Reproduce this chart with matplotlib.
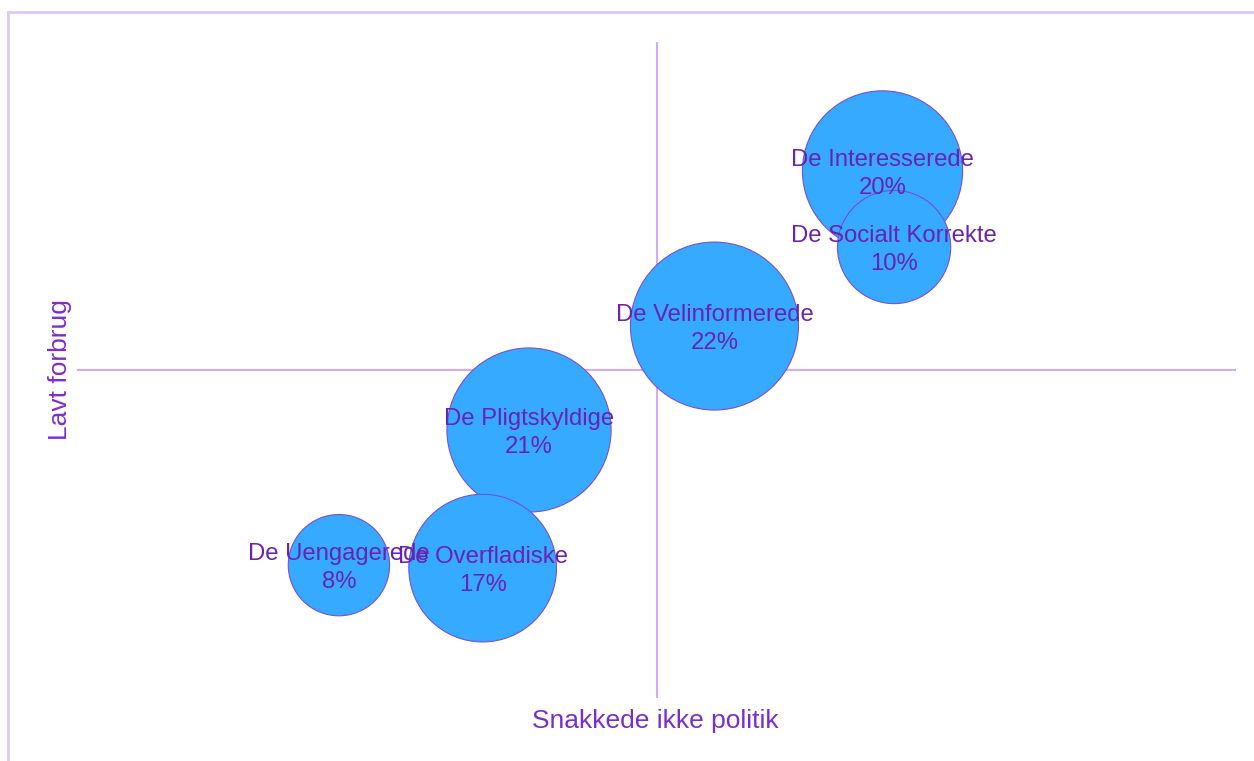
import matplotlib
matplotlib.use("Agg")
import matplotlib.pyplot as plt
from matplotlib.lines import Line2D

# Data
names = ["De Interesserede", "De Socialt Korrekte", "De Velinformerede",
         "De Pligtskyldige", "De Overfladiske", "De Uengagerede"]
x_vals = [0.39, 0.41, 0.10, -0.22, -0.30, -0.548]
y_vals = [0.607, 0.375, 0.134, -0.183, -0.604, -0.595]
shares = [20, 10, 22, 21, 17, 8]
x_label = "Snakkede ikke politik"
y_label = "Lavt forbrug"

W, H, DPI = 1254, 761, 100
fig = plt.figure(figsize=(W / DPI, H / DPI), dpi=DPI)
plt.rcParams['font.family'] = ['Liberation Sans', 'DejaVu Sans']

# outer frame (top and left lines)
frame_col = "#E0C8F4"
fig.add_artist(Line2D([8 / W, 8 / W], [0, 1 - 12 / H], color=frame_col, lw=2,
                      transform=fig.transFigure))
fig.add_artist(Line2D([8 / W, 1], [1 - 12 / H, 1 - 12 / H], color=frame_col, lw=2,
                      transform=fig.transFigure))

ax = fig.add_axes([77 / W, 1 - 698 / H, (1236 - 77) / W, (698 - 42) / H])
ax.set_xlim(-1, 1)
ax.set_ylim(-1, 1)
ax.axis("off")

line_col = "#D2ADF2"
ax.axvline(0, color=line_col, lw=1.5, zorder=1)
ax.axhline(0, color=line_col, lw=1.5, zorder=1)

size_k = 665  # points^2 per percentage point (area proportional to share)
ax.scatter(x_vals, y_vals, s=[v * size_k for v in shares], color="#36AAFF",
           edgecolor="#7A4FD6", linewidth=0.8, zorder=2)

txt_col = "#6A22B2"
for n, x, y, v in zip(names, x_vals, y_vals, shares):
    ax.annotate(n, (x, y), xytext=(0, 8.0), textcoords="offset points",
                ha="center", va="center", fontsize=17.2, color=txt_col, zorder=3)
    ax.annotate(f"{v}%", (x, y), xytext=(0, -12), textcoords="offset points",
                ha="center", va="center", fontsize=17.2, color=txt_col, zorder=3)

axis_txt = "#7B2DD4"
fig.text(655 / W, 1 - 721 / H, x_label, ha="center", va="center",
         fontsize=19, color=axis_txt)
fig.text(60 / W, 1 - 370 / H, y_label, ha="center", va="center",
         rotation=90, fontsize=19, color=axis_txt)

fig.savefig("out.png", dpi=DPI)
